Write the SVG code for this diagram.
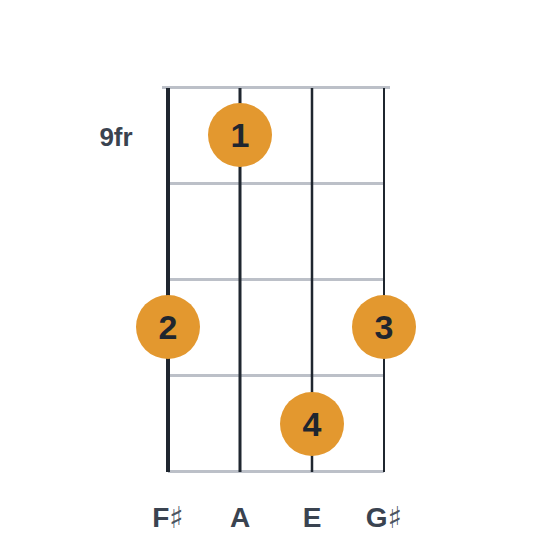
<svg xmlns="http://www.w3.org/2000/svg" width="560" height="560" viewBox="0 0 560 560">
<style>
.fret{stroke:#bcc0c8;stroke-width:3}
.str{stroke:#1f262f}
.dot{fill:#e3982f}
.fn{font-family:"Liberation Sans",Arial,sans-serif;font-weight:bold;font-size:34px;fill:#1f262f;text-anchor:middle}
.lbl{font-family:"Liberation Sans",Arial,sans-serif;font-weight:bold;font-size:28px;fill:#3a4350;text-anchor:middle}
.sh{font-family:"DejaVu Sans",sans-serif;font-weight:normal;font-size:30px;fill:#4a5360}
</style>
<rect width="560" height="560" fill="#ffffff"/>
<g id="frets">
<line class="fret" x1="162" y1="87.5" x2="390" y2="87.5" stroke-width="5"/>
<line class="fret" x1="168" y1="183.5" x2="384" y2="183.5"/>
<line class="fret" x1="168" y1="279.5" x2="384" y2="279.5"/>
<line class="fret" x1="168" y1="375.5" x2="384" y2="375.5"/>
<line class="fret" x1="168" y1="471.5" x2="384" y2="471.5"/>
</g>
<g id="strings">
<line class="str" x1="168" y1="88" x2="168" y2="472" stroke-width="4"/>
<line class="str" x1="240" y1="88" x2="240" y2="472" stroke-width="3"/>
<line class="str" x1="312" y1="88" x2="312" y2="472" stroke-width="2.5"/>
<line class="str" x1="384" y1="88" x2="384" y2="472" stroke-width="2"/>
</g>
<g id="fret-label"><text x="116" y="146" font-family="'Liberation Sans',Arial,sans-serif" font-weight="bold" font-size="26" fill="#3a4350" text-anchor="middle">9fr</text></g>
<g id="finger1"><circle class="dot" cx="240" cy="135" r="32"/><text class="fn" x="240" y="147">1</text></g>
<g id="finger2"><circle class="dot" cx="168" cy="327" r="32"/><text class="fn" x="168" y="339">2</text></g>
<g id="finger3"><circle class="dot" cx="384" cy="327" r="32"/><text class="fn" x="384" y="339">3</text></g>
<g id="finger4"><circle class="dot" cx="312" cy="424" r="32"/><text class="fn" x="312" y="436">4</text></g>
<g id="labels">
<text class="lbl" x="168" y="527">F<tspan class="sh" dy="1">♯</tspan></text>
<text class="lbl" x="240" y="527">A</text>
<text class="lbl" x="312" y="527">E</text>
<text class="lbl" x="384" y="527">G<tspan class="sh" dy="1">♯</tspan></text>
</g>
</svg>
